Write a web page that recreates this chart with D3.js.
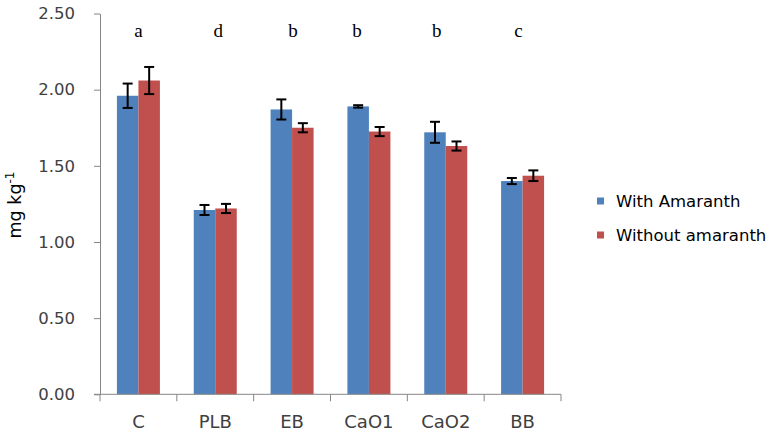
<!DOCTYPE html>
<html><head><meta charset="utf-8">
<script src="https://cdn.jsdelivr.net/npm/d3@7"></script>
<style>body{margin:0;background:#fff}</style>
</head><body>
<svg id="c" width="775" height="435"></svg>
<script>
const categories = ["C","PLB","EB","CaO1","CaO2","BB"];
const seriesNames = ["With Amaranth","Without amaranth"];
const withAmaranth = [1.96,1.21,1.87,1.89,1.72,1.40];
const withAmaranthErr = [0.08,0.033,0.066,0.008,0.069,0.02];
const withoutAmaranth = [2.06,1.22,1.75,1.725,1.63,1.435];
const withoutAmaranthErr = [0.089,0.03,0.03,0.03,0.03,0.035];
const letters = ["a","d","b","b","b","c"];
const yTicks = [0,0.5,1.0,1.5,2.0,2.5];

(function(){
const colors = ["#4F81BD","#C0504D"];
const svg = d3.select("#c");
const mL=100, mR=561, mT=13.5, mB=394.3;

const x0 = d3.scaleBand().domain(categories).range([mL,mR]).padding(0);
const x1 = d3.scaleBand().domain(seriesNames).range([0,x0.bandwidth()]).paddingInner(0).paddingOuter(0.787);
const y = d3.scaleLinear().domain([0,2.5]).range([mB,mT]);

const rows = categories.map((c,i)=>({cat:c, vals:[
  {s:seriesNames[0], v:withAmaranth[i], e:withAmaranthErr[i]},
  {s:seriesNames[1], v:withoutAmaranth[i], e:withoutAmaranthErr[i]}]}));

// y axis
const yAxis = svg.append("g").attr("transform",`translate(${mL},0)`)
  .call(d3.axisLeft(y).tickValues(yTicks).tickFormat(d3.format(".2f")).tickSize(6).tickSizeOuter(0));
yAxis.select(".domain").attr("stroke","#868686");
yAxis.selectAll(".tick line").attr("stroke","#868686");
yAxis.selectAll(".tick text").attr("font-family","DejaVu Sans").attr("font-size","16.5px").attr("fill","#404040").attr("x",-25);

// bars
const g = svg.append("g");
rows.forEach(r=>{
  const gg = g.append("g").attr("transform",`translate(${x0(r.cat)},0)`);
  gg.selectAll("rect").data(r.vals).join("rect")
    .attr("x",d=>x1(d.s)).attr("width",x1.bandwidth())
    .attr("y",d=>y(d.v)).attr("height",d=>y(0)-y(d.v))
    .attr("fill",(d,i)=>colors[i]);
  const eb = gg.selectAll("g.err").data(r.vals).join("g").attr("class","err");
  const cx = d=>x1(d.s)+x1.bandwidth()/2;
  eb.append("line").attr("x1",cx).attr("x2",cx)
    .attr("y1",d=>y(d.v+d.e)).attr("y2",d=>y(d.v-d.e));
  eb.append("line").attr("x1",d=>cx(d)-5).attr("x2",d=>cx(d)+5)
    .attr("y1",d=>y(d.v+d.e)).attr("y2",d=>y(d.v+d.e));
  eb.append("line").attr("x1",d=>cx(d)-5).attr("x2",d=>cx(d)+5)
    .attr("y1",d=>y(d.v-d.e)).attr("y2",d=>y(d.v-d.e));
  eb.selectAll("line").attr("stroke","#000").attr("stroke-width",2);
});

// x axis
const xAxisG = svg.append("g").attr("transform",`translate(0,${mB})`);
xAxisG.append("line").attr("x1",mL-6).attr("x2",mR).attr("stroke","#868686");
const bounds = categories.map(c=>x0(c)).concat([x0(categories[categories.length-1])+x0.bandwidth()]);
xAxisG.selectAll("line.tk").data(bounds).join("line").attr("class","tk")
  .attr("x1",d=>d).attr("x2",d=>d).attr("y1",0).attr("y2",7).attr("stroke","#868686");
xAxisG.selectAll("text").data(categories).join("text")
  .attr("x",d=>x0(d)+x0.bandwidth()/2).attr("y",34).attr("text-anchor","middle")
  .attr("font-family","DejaVu Sans").attr("font-size","18px").attr("fill","#404040").text(d=>d);

// significance letters
const letterShift = [0,3,1,-12,-9,-4];
svg.append("g").selectAll("text").data(letters).join("text")
  .attr("x",(d,i)=>x0(categories[i])+x0.bandwidth()/2+letterShift[i]).attr("y",37)
  .attr("text-anchor","middle").attr("font-family","Liberation Serif").attr("font-size","19px").attr("fill","#000").text(d=>d);

// y label
const yl = svg.append("text").attr("transform","translate(21,205) rotate(-90)")
  .attr("text-anchor","middle").attr("font-family","DejaVu Sans").attr("font-size","17.5px").attr("fill","#000");
yl.append("tspan").text("mg kg");
yl.append("tspan").attr("dy",-7).attr("font-size","12px").text("-1");

// legend
const lg = svg.append("g");
seriesNames.forEach((s,i)=>{
  const yy = 201 + i*34;
  lg.append("rect").attr("x",597).attr("y",yy-3.5).attr("width",7).attr("height",7).attr("fill",colors[i]);
  lg.append("text").attr("x",616).attr("y",yy).attr("dy","0.36em").attr("font-family","DejaVu Sans")
    .attr("font-size","16.5px").attr("fill","#000").text(s);
});
})();
</script>
</body></html>
